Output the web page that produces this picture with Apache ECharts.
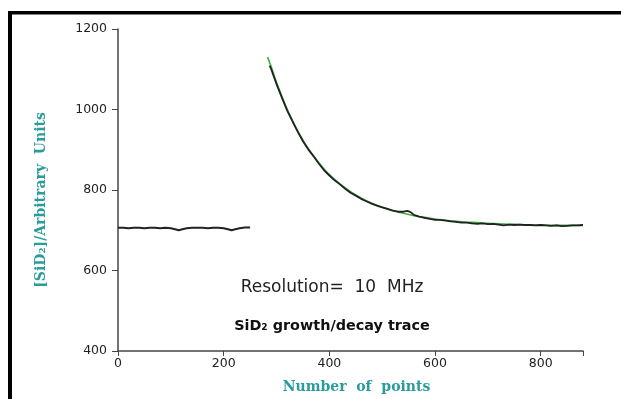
<!DOCTYPE html>
<html>
<head>
<meta charset="utf-8">
<script src="https://cdn.jsdelivr.net/npm/echarts@6/dist/echarts.min.js"></script>
<style>
html,body{margin:0;padding:0;background:#fff;}
#c{width:621px;height:399px;}
</style>
</head>
<body>
<div id="c"></div>
<script>
// Baseline trace (before switching)
const baseX = [0,10,20,30,40,50,60,70,80,90,100,110,115,120,130,140,150,160,170,180,190,200,210,215,220,230,240,250];
const baseY = [706,706,705,706,706,705,706,706,705,706,705,702,700,702,705,706,706,706,705,706,706,705,702,700,702,705,707,707];

// Decay trace (measured, noisy)
const decayX = [287,290,300,310,320,330,340,350,360,370,380,390,400,410,420,430,440,450,460,470,480,490,500,510,520,530,540,548,555,560,570,580,590,600,610,620,630,640,650,660,670,680,690,700,710,720,730,740,750,760,770,780,790,800,810,820,830,840,850,860,870,880];
const decayY = [1109,1100,1063,1030,998,971,945,921,901,884,866,849,836,824,814,803,793,786,778,772,766,761,757,753,749,746,746,748,744,738,734,731,728,726,726,724,722,721,719,719,717,716,717,715,716,714,712,714,713,714,713,713,712,713,712,711,712,710,711,712,712,713];

// Exponential fit curve (green)
const fitX = [283,290,300,310,320,330,340,350,360,370,380,390,400,420,440,460,480,500,520,540,560,580,600,620,640,660,680,700,720,740,760,780,800,820,840,860,880];
const fitY = [1130,1106,1067,1033,1001,973,947,924,903,885,868,852,838,815,796,780,767,757,749,742,736,732,728,725,722,720,719,717,716,715,714,713,713,712,712,712,712];

const yTicks = [400,600,800,1000,1200];
const xTicks = [0,200,400,600,800];

const zip = (xs, ys) => xs.map((x,i)=>[x, ys[i]]);

const chart = echarts.init(document.getElementById('c'), null, {renderer:'canvas'});
const teal = '#2a9c9a';
chart.setOption({
  backgroundColor:'#ffffff',
  animation:false,
  grid:{left:118, right:38, top:29, bottom:48, containLabel:false},
  xAxis:{
    type:'value', min:0, max:880, interval:200,
    name:'Number  of  points', nameLocation:'middle', nameGap:29,
    nameTextStyle:{color:teal, fontFamily:'DejaVu Serif', fontWeight:'bold', fontSize:14, padding:[0,0,0,12]},
    axisLine:{show:true, lineStyle:{color:'#444', width:1.5}},
    axisTick:{show:true, length:5, lineStyle:{color:'#444'}},
    axisLabel:{color:'#222', fontFamily:'DejaVu Sans', fontSize:12.5, margin:6,
      formatter:v=> xTicks.includes(v)? String(v):''},
    splitLine:{show:false}
  },
  yAxis:{
    type:'value', min:400, max:1200, interval:200,
    name:'[SiD\u2082]/Arbitrary  Units', nameLocation:'middle', nameGap:70, nameRotate:90,
    nameTextStyle:{color:teal, fontFamily:'DejaVu Serif', fontWeight:'bold', fontSize:14, padding:[0,20,0,0]},
    axisLine:{show:true, lineStyle:{color:'#444', width:1.5}},
    axisTick:{show:true, length:6, lineStyle:{color:'#444'}},
    axisLabel:{color:'#222', fontFamily:'DejaVu Sans', fontSize:12.5, margin:11,
      formatter:v=> yTicks.includes(v)? String(v):''},
    splitLine:{show:false}
  },
  series:[
    {type:'line', data:zip(baseX, baseY), showSymbol:false, lineStyle:{color:'#222', width:2}, z:3},
    {type:'line', data:zip(fitX, fitY), showSymbol:false, smooth:true, lineStyle:{color:'#3cb43c', width:1.6}, z:2},
    {type:'line', data:zip(decayX, decayY), showSymbol:false, lineStyle:{color:'#222', width:1.8}, z:3}
  ],
  graphic:[
    {type:'rect', shape:{x:8, y:11, width:613, height:3.5}, style:{fill:'#000'}},
    {type:'rect', shape:{x:8, y:11, width:4, height:388}, style:{fill:'#000'}},
    {type:'text', x:332, y:288, style:{text:'Resolution=  10  MHz', font:'17px "DejaVu Sans"', fill:'#222', align:'center', verticalAlign:'middle'}},
    {type:'text', x:332, y:326, style:{text:'SiD\u2082 growth/decay trace', font:'bold 14.4px "DejaVu Sans"', fill:'#111', align:'center', verticalAlign:'middle'}}
  ]
});
</script>
</body>
</html>
